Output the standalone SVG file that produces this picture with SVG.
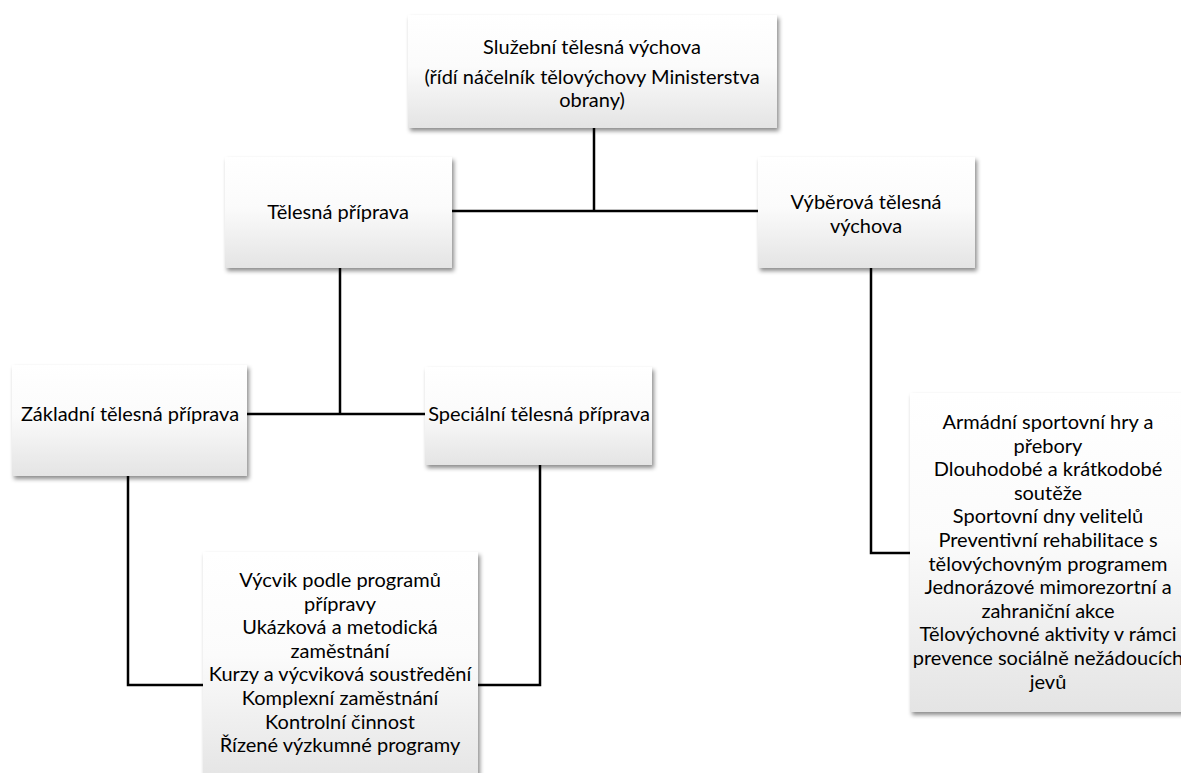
<svg xmlns="http://www.w3.org/2000/svg" width="1181" height="773" viewBox="0 0 1181 773">
<defs>
<linearGradient id="g" x1="0" y1="0" x2="0" y2="1">
<stop offset="0" stop-color="#ffffff"/>
<stop offset="0.45" stop-color="#fbfbfb"/>
<stop offset="1" stop-color="#e4e4e4"/>
</linearGradient>
<filter id="sh" x="-10%" y="-10%" width="125%" height="130%">
<feDropShadow dx="2" dy="3" stdDeviation="2" flood-color="#000" flood-opacity="0.45"/>
</filter>
</defs>
<style>
.box{fill:url(#g);filter:url(#sh);}
.t{font-family:Lato,"Liberation Sans",sans-serif;font-size:20px;fill:#000;text-anchor:middle;}
.c{fill:none;stroke:#000;stroke-width:2.5;}
</style>
<rect width="1181" height="773" fill="#fff"/>
<g id="connectors">
<path class="c" d="M594 128 V211"/>
<path class="c" d="M452 211 H758"/>
<path class="c" d="M340 268 V414"/>
<path class="c" d="M247 414 H425"/>
<path class="c" d="M128 476 V685 H203"/>
<path class="c" d="M540 465 V685 H478"/>
<path class="c" d="M871 268 V553 H910"/>
</g>
<g id="n-top">
<rect class="box" x="408" y="15" width="369" height="113"/>
<text class="t" x="592" y="54">Služební tělesná výchova</text>
<text class="t" x="592" y="84">(řídí náčelník tělovýchovy Ministerstva</text>
<text class="t" x="592" y="107">obrany)</text>
</g>
<g id="n-telesna">
<rect class="box" x="225" y="157" width="227" height="111"/>
<text class="t" x="338" y="219">Tělesná příprava</text>
</g>
<g id="n-vyberova">
<rect class="box" x="758" y="157" width="217" height="111"/>
<text class="t" x="866" y="209">Výběrová tělesná</text>
<text class="t" x="866" y="233">výchova</text>
</g>
<g id="n-zakladni">
<rect class="box" x="12" y="365" width="235" height="111"/>
<text class="t" x="130" y="421">Základní tělesná příprava</text>
</g>
<g id="n-specialni">
<rect class="box" x="425" y="367" width="227" height="98"/>
<text class="t" x="539" y="421">Speciální tělesná příprava</text>
</g>
<g id="n-vycvik">
<rect class="box" x="203" y="552" width="275" height="230"/>
<text class="t" x="340" y="587">Výcvik podle programů</text>
<text class="t" x="340" y="610.6">přípravy</text>
<text class="t" x="340" y="634.2">Ukázková a metodická</text>
<text class="t" x="340" y="657.8">zaměstnání</text>
<text class="t" x="340" y="681.4">Kurzy a výcviková soustředění</text>
<text class="t" x="340" y="705">Komplexní zaměstnání</text>
<text class="t" x="340" y="728.6">Kontrolní činnost</text>
<text class="t" x="340" y="752.2">Řízené výzkumné programy</text>
</g>
<g id="n-aktivity">
<rect class="box" x="910" y="393" width="280" height="319"/>
<text class="t" x="1048" y="429">Armádní sportovní hry a</text>
<text class="t" x="1048" y="452.6">přebory</text>
<text class="t" x="1048" y="476.2">Dlouhodobé a krátkodobé</text>
<text class="t" x="1048" y="499.8">soutěže</text>
<text class="t" x="1048" y="523.4">Sportovní dny velitelů</text>
<text class="t" x="1048" y="547">Preventivní rehabilitace s</text>
<text class="t" x="1048" y="570.6">tělovýchovným programem</text>
<text class="t" x="1048" y="594.2">Jednorázové mimorezortní a</text>
<text class="t" x="1048" y="617.8">zahraniční akce</text>
<text class="t" x="1048" y="641.4">Tělovýchovné aktivity v rámci</text>
<text class="t" x="1048" y="665">prevence sociálně nežádoucích</text>
<text class="t" x="1048" y="688.6">jevů</text>
</g>
</svg>
